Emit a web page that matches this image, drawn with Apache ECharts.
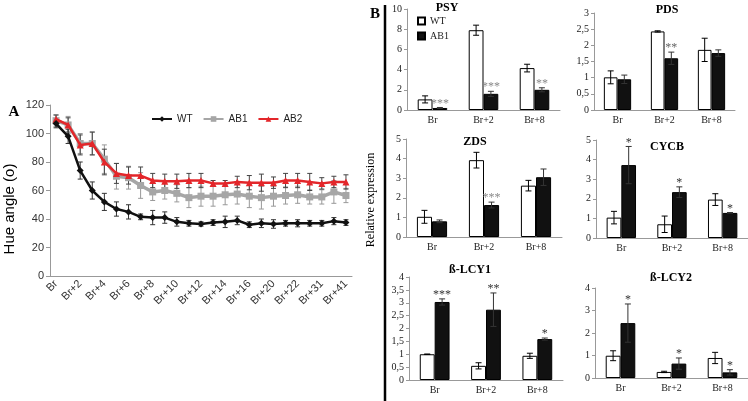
<!DOCTYPE html>
<html>
<head>
<meta charset="utf-8">
<script src="https://cdn.jsdelivr.net/npm/echarts@6/dist/echarts.min.js"></script>
<style>
  html, body { margin: 0; padding: 0; background: #fff; }
  #main { width: 748px; height: 401px; }
</style>
</head>
<body>
<div id="main"></div>
<script>
var chart = echarts.init(document.getElementById('main'));

// panel A - hue angle over days
var hueCats = ['Br', 'Br+1', 'Br+2', 'Br+3', 'Br+4', 'Br+5', 'Br+6', 'Br+7', 'Br+8', 'Br+9',
    'Br+10', 'Br+11', 'Br+12', 'Br+13', 'Br+14', 'Br+15', 'Br+16', 'Br+17', 'Br+20', 'Br+21',
    'Br+22', 'Br+24', 'Br+31', 'Br+36', 'Br+41'];
var hueWT = [107, 98, 74, 60, 52, 47, 45, 41.5, 41, 41, 38, 37, 36.5, 37.5, 38, 39, 36, 37, 36.5, 37, 37, 37, 37, 38.5, 37.5];
var hueWTErr = [3, 5, 6, 6, 6, 5, 5, 2, 5, 4, 3, 2, 1.5, 2, 4, 3, 2, 3, 3, 2, 2.5, 2, 2, 2.5, 2];
var hueAB1 = [109, 106, 93, 93, 82, 70, 69, 63.5, 59, 60, 58, 55, 56, 56, 57, 57.5, 56, 55, 56, 56.5, 57, 55.5, 55.5, 59, 56.5];
var hueAB1Err = [4, 6, 7, 8, 10, 9, 8, 9, 6, 6, 6, 7, 7, 7, 7, 7, 8, 8, 7, 6, 6, 5, 5, 8, 5];
var hueAB2 = [110, 106, 92, 93, 80, 72, 70.5, 70.5, 67, 66.5, 66.5, 67, 67, 65, 65, 66, 65.5, 65.5, 65.5, 67, 67, 66, 65, 66, 66];
var hueAB2Err = [3, 5, 7, 8, 9, 7, 6, 6, 5, 5, 5, 5, 5, 2, 2, 4, 5, 6, 4, 5, 5, 6, 4, 4, 5];

// panel B - relative expression
var geneCats = ['Br', 'Br+2', 'Br+8'];
var psyWT = [1.05, 7.9, 4.15], psyWTErr = [0.35, 0.5, 0.38];
var psyAB1 = [0.2, 1.6, 2.0], psyAB1Err = [0.05, 0.25, 0.2], psyStars = ['***', '***', '**'];
var pdsWT = [1.01, 2.43, 1.86], pdsWTErr = [0.2, 0.02, 0.36];
var pdsAB1 = [0.95, 1.6, 1.76], pdsAB1Err = [0.13, 0.19, 0.1], pdsStars = ['', '**', ''];
var zdsWT = [1.03, 3.92, 2.62], zdsWTErr = [0.33, 0.4, 0.27];
var zdsAB1 = [0.8, 1.63, 3.05], zdsAB1Err = [0.07, 0.15, 0.42], zdsStars = ['', '***', ''];
var cycbWT = [1.04, 0.7, 1.96], cycbWTErr = [0.32, 0.42, 0.3];
var cycbAB1 = [3.72, 2.34, 1.28], cycbAB1Err = [0.95, 0.27, 0.02], cycbStars = ['*', '*', '*'];
var lcy1WT = [1.0, 0.55, 0.94], lcy1WTErr = [0.01, 0.12, 0.1];
var lcy1AB1 = [3.03, 2.73, 1.59], lcy1AB1Err = [0.12, 0.65, 0.04], lcy1Stars = ['***', '**', '*'];
var lcy2WT = [0.99, 0.27, 0.89], lcy2WTErr = [0.22, 0.03, 0.25];
var lcy2AB1 = [2.44, 0.64, 0.25], lcy2AB1Err = [0.85, 0.25, 0.12], lcy2Stars = ['*', '*', '*'];

var serif = 'Liberation Serif';
var sans = 'Liberation Sans';

var panels = [
    { title: 'PSY', tx: 447, ty: 8, grid: { left: 407, top: 9, width: 153, height: 101 }, max: 10, step: 2,
      wt: psyWT, wtErr: psyWTErr, ab: psyAB1, abErr: psyAB1Err, stars: psyStars, starColor: '#888' },
    { title: 'PDS', tx: 667, ty: 10, grid: { left: 594, top: 13, width: 141, height: 97 }, max: 3, step: 0.5,
      wt: pdsWT, wtErr: pdsWTErr, ab: pdsAB1, abErr: pdsAB1Err, stars: pdsStars, starColor: '#666' },
    { title: 'ZDS', tx: 475, ty: 142, grid: { left: 406, top: 139, width: 156, height: 98 }, max: 5, step: 1,
      wt: zdsWT, wtErr: zdsWTErr, ab: zdsAB1, abErr: zdsAB1Err, stars: zdsStars, starColor: '#888' },
    { title: 'CYCB', tx: 667, ty: 147, grid: { left: 596, top: 140, width: 156, height: 98 }, max: 5, step: 1,
      wt: cycbWT, wtErr: cycbWTErr, ab: cycbAB1, abErr: cycbAB1Err, stars: cycbStars, starColor: '#333' },
    { title: '\u00DF-LCY1', tx: 470, ty: 270, grid: { left: 409, top: 277, width: 154, height: 103 }, max: 4, step: 0.5,
      wt: lcy1WT, wtErr: lcy1WTErr, ab: lcy1AB1, abErr: lcy1AB1Err, stars: lcy1Stars, starColor: '#333' },
    { title: '\u00DF-LCY2', tx: 671, ty: 278, grid: { left: 595, top: 288, width: 156, height: 90 }, max: 4, step: 1,
      wt: lcy2WT, wtErr: lcy2WTErr, ab: lcy2AB1, abErr: lcy2AB1Err, stars: lcy2Stars, starColor: '#333' }
];

// error bars on a line chart
function lineErr(vals, errs, color, cap) {
    return function (params, api) {
        var i = api.value(0);
        var v = vals[i], e = errs[i];
        var hi = api.coord([i, v + e]);
        var lo = api.coord([i, v - e]);
        var st = { stroke: color, lineWidth: 1 };
        return {
            type: 'group',
            children: [
                { type: 'line', shape: { x1: hi[0], y1: hi[1], x2: lo[0], y2: lo[1] }, style: st },
                { type: 'line', shape: { x1: hi[0] - cap, y1: hi[1], x2: hi[0] + cap, y2: hi[1] }, style: st },
                { type: 'line', shape: { x1: lo[0] - cap, y1: lo[1], x2: lo[0] + cap, y2: lo[1] }, style: st }
            ]
        };
    };
}

// error bars on a grouped bar, side = -1 for WT, +1 for AB1
function barErr(vals, errs, side, stars, starColor) {
    return function (params, api) {
        var i = api.value(0);
        var v = vals[i], e = errs[i];
        var band = api.size([1, 0])[0];
        var dx = side * band * 0.145;
        var hi = api.coord([i, v + e]);
        var lo = api.coord([i, Math.max(v - e, 0)]);
        var x = hi[0] + dx;
        var st = { stroke: side < 0 ? '#000' : '#333', lineWidth: 1 };
        var kids = [
            { type: 'line', shape: { x1: x, y1: hi[1], x2: x, y2: lo[1] }, style: st },
            { type: 'line', shape: { x1: x - 3, y1: hi[1], x2: x + 3, y2: hi[1] }, style: st },
            { type: 'line', shape: { x1: x - 3, y1: lo[1], x2: x + 3, y2: lo[1] }, style: st }
        ];
        if (stars && stars[i]) {
            kids.push({ type: 'text', style: { text: stars[i], x: x, y: hi[1] + 2, align: 'center',
                verticalAlign: 'bottom', fill: starColor, font: '12px ' + serif } });
        }
        return { type: 'group', children: kids };
    };
}

var grids = [{ left: 50, top: 105, width: 302, height: 171 }];
var xAxes = [{
    type: 'category', data: hueCats, gridIndex: 0,
    axisLine: { lineStyle: { color: '#999' } },
    axisTick: { interval: 0, length: 4, lineStyle: { color: '#999' } },
    axisLabel: { interval: 1, rotate: 45, fontSize: 11, color: '#333', fontFamily: sans, margin: 6 }
}];
var yAxes = [{
    type: 'value', gridIndex: 0, min: 0, max: 120, interval: 20,
    splitLine: { show: false },
    axisLine: { show: true, lineStyle: { color: '#999' } },
    axisTick: { show: true, length: 4, lineStyle: { color: '#999' } },
    axisLabel: { fontSize: 11, color: '#333', fontFamily: sans, margin: 6 }
}];

var idxData = hueCats.map(function (c, i) { return [i, 0]; });
var series = [
    { type: 'custom', name: 'errAB1', xAxisIndex: 0, yAxisIndex: 0, data: idxData, z: 1,
      renderItem: lineErr(hueAB1, hueAB1Err, '#999', 2.5) },
    { type: 'custom', name: 'errAB2', xAxisIndex: 0, yAxisIndex: 0, data: idxData, z: 1,
      renderItem: lineErr(hueAB2, hueAB2Err, '#444', 2.5) },
    { type: 'custom', name: 'errWT', xAxisIndex: 0, yAxisIndex: 0, data: idxData, z: 1,
      renderItem: lineErr(hueWT, hueWTErr, '#333', 2.5) },
    { type: 'line', name: 'AB1', data: hueAB1, xAxisIndex: 0, yAxisIndex: 0, z: 2,
      symbol: 'rect', symbolSize: 7, color: '#a6a6a6', lineStyle: { width: 3.5, color: '#a6a6a6' } },
    { type: 'line', name: 'AB2', data: hueAB2, xAxisIndex: 0, yAxisIndex: 0, z: 3,
      symbol: 'triangle', symbolSize: 7, color: '#e3262a', lineStyle: { width: 2.5, color: '#e3262a' } },
    { type: 'line', name: 'WT', data: hueWT, xAxisIndex: 0, yAxisIndex: 0, z: 4,
      symbol: 'diamond', symbolSize: 7, color: '#111', lineStyle: { width: 2.5, color: '#111' } }
];

var graphics = [
    { type: 'line', shape: { x1: 385, y1: 5, x2: 385, y2: 401 }, style: { stroke: '#000', lineWidth: 2.5 } },
    { type: 'text', x: 14, y: 112, style: { text: 'A', font: 'bold 15px ' + serif, fill: '#000', align: 'center', verticalAlign: 'middle' } },
    { type: 'text', x: 375, y: 14, style: { text: 'B', font: 'bold 15px ' + serif, fill: '#000', align: 'center', verticalAlign: 'middle' } },
    { type: 'text', x: 10, y: 209, rotation: Math.PI / 2,
      style: { text: 'Hue angle (o)', font: '15px ' + sans, fill: '#000', align: 'center', verticalAlign: 'middle' } },
    { type: 'text', x: 371, y: 200, rotation: Math.PI / 2,
      style: { text: 'Relative expression', font: '12px ' + serif, fill: '#000', align: 'center', verticalAlign: 'middle' } }
];

panels.forEach(function (p, k) {
    var gi = k + 1;
    grids.push(p.grid);
    xAxes.push({
        type: 'category', data: geneCats, gridIndex: gi,
        axisLine: { lineStyle: { color: '#999' } },
        axisTick: { length: 3, lineStyle: { color: '#999' } },
        axisLabel: { fontSize: 10, color: '#222', fontFamily: serif, margin: 5 }
    });
    yAxes.push({
        type: 'value', gridIndex: gi, min: 0, max: p.max, interval: p.step,
        splitLine: { show: false },
        axisLine: { show: true, lineStyle: { color: '#999' } },
        axisTick: { show: true, length: 3, lineStyle: { color: '#999' } },
        axisLabel: { fontSize: 10, color: '#222', fontFamily: serif, margin: 5,
            formatter: function (v) { return String(v).replace('.', ','); } }
    });
    series.push({
        type: 'bar', name: 'WT_B', data: p.wt, xAxisIndex: gi, yAxisIndex: gi,
        barGap: '0%', barCategoryGap: '42%',
        itemStyle: { color: '#fff', borderColor: '#000', borderWidth: 1 }
    });
    series.push({
        type: 'bar', name: 'AB1_B', data: p.ab, xAxisIndex: gi, yAxisIndex: gi,
        barGap: '0%', barCategoryGap: '42%',
        itemStyle: { color: '#111', borderColor: '#000', borderWidth: 1 }
    });
    var gd = geneCats.map(function (c, i) { return [i, 0]; });
    series.push({ type: 'custom', xAxisIndex: gi, yAxisIndex: gi, data: gd, z: 5,
        renderItem: barErr(p.wt, p.wtErr, -1, null, null) });
    series.push({ type: 'custom', xAxisIndex: gi, yAxisIndex: gi, data: gd, z: 5,
        renderItem: barErr(p.ab, p.abErr, 1, p.stars, p.starColor) });
    graphics.push({ type: 'text', x: p.tx, y: p.ty,
        style: { text: p.title, font: 'bold 12px ' + serif, fill: '#000', align: 'center', verticalAlign: 'middle' } });
});

var option = {
    animation: false,
    backgroundColor: '#fff',
    grid: grids,
    xAxis: xAxes,
    yAxis: yAxes,
    legend: [{
        data: ['WT', 'AB1', 'AB2'],
        left: 146, top: 109, itemWidth: 20, itemHeight: 7, itemGap: 10,
        textStyle: { fontSize: 10, fontFamily: sans, color: '#222' }
    }, {
        data: ['WT_B', 'AB1_B'],
        orient: 'vertical', left: 412, top: 11, itemWidth: 7, itemHeight: 7, itemGap: 5,
        icon: 'rect',
        formatter: function (n) { return n.replace('_B', ''); },
        textStyle: { fontSize: 10, fontFamily: serif, color: '#222' }
    }],
    graphic: graphics,
    series: series
};

chart.setOption(option);
</script>
</body>
</html>
